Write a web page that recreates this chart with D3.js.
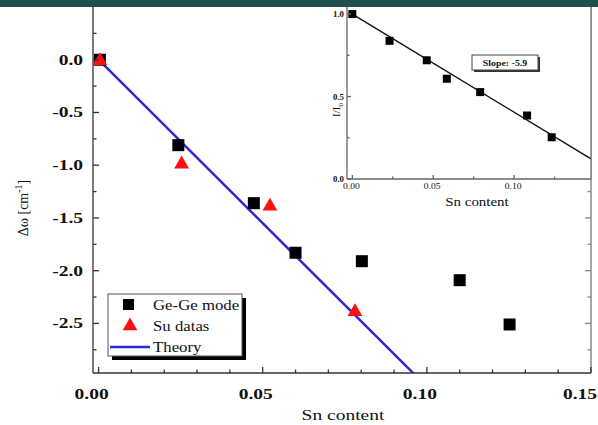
<!DOCTYPE html>
<html><head><meta charset="utf-8">
<script src="https://cdn.jsdelivr.net/npm/d3@7/dist/d3.min.js"></script>
<style>body{margin:0;background:#fff}svg{display:block}text{font-family:"Liberation Serif","Times New Roman",serif}</style>
</head><body>
<script>
// ---- data ----
const geX = [0.0004, 0.0243, 0.0473, 0.0600, 0.0802, 0.1100, 0.1252];
const geY = [0.0, -0.81, -1.36, -1.83, -1.91, -2.09, -2.51];
const suX = [0.0004, 0.0253, 0.0522, 0.0781];
const suY = [0.0, -0.98, -1.38, -2.38];
const theoryX = [0.0, 0.10];
const theoryY = [0.0, -3.10];
const insetX = [0.000, 0.0230, 0.0460, 0.0584, 0.0790, 0.1080, 0.1232];
const insetY = [1.00, 0.838, 0.72, 0.608, 0.527, 0.385, 0.253];
const fitX = [0.0, 0.1475];
const fitY = [1.0, 0.122];
const xTicks = [0, 0.05, 0.10, 0.15];
const yTicks = [0, -0.5, -1.0, -1.5, -2.0, -2.5];
const insetXTicks = [0, 0.05, 0.10];
const insetYTicks = [0, 0.5, 1.0];
const legendLabels = ["Ge-Ge mode", "Su datas", "Theory"];
const slopeLabel = "Slope: -5.9";

const W = 598, H = 425;
const svg = d3.select("body").append("svg").attr("width", W).attr("height", H);
svg.append("rect").attr("width", W).attr("height", H).attr("fill", "#fff");

const L = 93, R = 591, T = 7, B = 373;
const x = d3.scaleLinear().domain([-0.0017, 0.15]).range([L, R]);
const y = d3.scaleLinear().domain([-2.97, 0.5]).range([B, T]);
const fmt = f => v => d3.format(f)(v).replace("\u2212", "-");

const defs = svg.append("defs");
defs.append("clipPath").attr("id", "mainclip").append("rect")
  .attr("x", L).attr("y", T).attr("width", R - L).attr("height", B - T);

function stext(g, tx, ty, str, opts) {
  const sx = opts.sx || 1;
  return g.append("text")
    .attr("transform", `translate(${tx},${ty}) scale(${sx},1)`)
    .attr("text-anchor", opts.anchor || "middle")
    .attr("font-size", opts.size || 14)
    .attr("font-weight", opts.bold ? "bold" : "normal")
    .attr("fill", opts.fill || "#111")
    .text(str);
}

// theory line
const plot = svg.append("g").attr("clip-path", "url(#mainclip)");
const line = d3.line().x(d => x(d[0])).y(d => y(d[1]));
plot.append("path").datum(d3.zip(theoryX, theoryY)).attr("d", line)
  .attr("stroke", "#2a2ad2").attr("stroke-width", 2.5).attr("fill", "none");

// squares
const sq = 12;
plot.selectAll("rect.ge").data(d3.zip(geX, geY)).join("rect")
  .attr("x", d => x(d[0]) - sq / 2).attr("y", d => y(d[1]) - sq / 2)
  .attr("width", sq).attr("height", sq).attr("fill", "#000");
const tri = d3.symbol().type(d3.symbolTriangle).size(95);
plot.selectAll("path.su").data(d3.zip(suX, suY)).join("path")
  .attr("transform", d => `translate(${x(d[0])},${y(d[1]) + 1})`)
  .attr("d", tri).attr("fill", "#ff1010");

// axes frame & ticks
const ax = svg.append("g").attr("stroke", "#333").attr("stroke-width", 1.3);
ax.append("line").attr("x1", L).attr("x2", L).attr("y1", T).attr("y2", B);
ax.append("line").attr("x1", L).attr("x2", R).attr("y1", B).attr("y2", B);
ax.append("line").attr("x1", R).attr("x2", R).attr("y1", T).attr("y2", B).attr("stroke", "#777");
const xMinor = d3.range(0, 0.1501, 0.01);
xMinor.forEach(v => {
  const major = xTicks.some(t => Math.abs(t - v) < 1e-6);
  ax.append("line").attr("x1", x(v)).attr("x2", x(v)).attr("y1", B).attr("y2", B - (major ? 6 : 3.5));
});
const yMinor = d3.range(-2.75, 0.251, 0.25);
yMinor.forEach(v => {
  const major = yTicks.some(t => Math.abs(t - v) < 1e-6);
  ax.append("line").attr("x1", L).attr("x2", L + (major ? 6 : 3.5)).attr("y1", y(v)).attr("y2", y(v));
  ax.append("line").attr("x1", R).attr("x2", R - (major ? 6 : 3.5)).attr("y1", y(v)).attr("y2", y(v)).attr("stroke", "#888");
});
const lab = svg.append("g");
xTicks.forEach((v, i) => {
  const last = i === xTicks.length - 1;
  stext(lab, last ? 597 : x(v) - 7, 399, fmt(".2f")(v), {size: 15, bold: true, sx: 1.3, anchor: last ? "end" : "middle"});
});
yTicks.forEach(v => stext(lab, 83, y(v) + 5, fmt(".1f")(v), {size: 15, bold: true, sx: 1.3, anchor: "end"}));
stext(lab, 343, 420, "Sn content", {size: 15, sx: 1.3});
const yt = lab.append("text").attr("transform", "translate(28,208) rotate(-90)")
  .attr("text-anchor", "middle").attr("font-size", 14).attr("fill", "#111");
yt.append("tspan").text("Δω [cm");
yt.append("tspan").attr("dy", -6).attr("font-size", 10).text("-1");
yt.append("tspan").attr("dy", 6).text("]");

// legend
const lg = svg.append("g");
lg.append("rect").attr("x", 112).attr("y", 298).attr("width", 134).attr("height", 62).attr("fill", "#000");
lg.append("rect").attr("x", 108).attr("y", 294).attr("width", 134).attr("height", 62)
  .attr("fill", "#fff").attr("stroke", "#555").attr("stroke-width", 1);
lg.append("rect").attr("x", 123).attr("y", 299).attr("width", 11).attr("height", 11).attr("fill", "#000");
lg.append("path").attr("transform", "translate(130,326)").attr("d", tri).attr("fill", "#ff1010");
lg.append("line").attr("x1", 110).attr("x2", 150).attr("y1", 347).attr("y2", 347)
  .attr("stroke", "#2a2ad2").attr("stroke-width", 2.5);
[305, 326, 347].forEach((yy, i) => stext(lg, 153, yy + 5, legendLabels[i], {size: 15, sx: 1.12, anchor: "start"}));

// inset
const iL = 347, iR = 591, iT = 7, iB = 179;
const ix = d3.scaleLinear().domain([-0.0033, 0.1475]).range([iL, iR]);
const iy = d3.scaleLinear().domain([0, 1.043]).range([iB, iT]);
svg.append("rect").attr("x", iL).attr("y", iT).attr("width", iR - iL).attr("height", iB - iT).attr("fill", "#fff");
defs.append("clipPath").attr("id", "insclip").append("rect")
  .attr("x", iL).attr("y", iT).attr("width", iR - iL).attr("height", iB - iT);
const ig = svg.append("g").attr("clip-path", "url(#insclip)");
const iline = d3.line().x(d => ix(d[0])).y(d => iy(d[1]));
ig.append("path").datum(d3.zip(fitX, fitY)).attr("d", iline)
  .attr("stroke", "#111").attr("stroke-width", 1.4).attr("fill", "none");
const isq = 8;
ig.selectAll("rect.p").data(d3.zip(insetX, insetY)).join("rect")
  .attr("x", d => ix(d[0]) - isq / 2).attr("y", d => iy(d[1]) - isq / 2)
  .attr("width", isq).attr("height", isq).attr("fill", "#000");
const ia = svg.append("g").attr("stroke", "#666").attr("stroke-width", 1.3);
ia.append("line").attr("x1", iL).attr("x2", iL).attr("y1", iT).attr("y2", iB);
ia.append("line").attr("x1", iL).attr("x2", iR).attr("y1", iB).attr("y2", iB);
ia.append("line").attr("x1", iR).attr("x2", iR).attr("y1", iT).attr("y2", iB).attr("stroke", "#777");
d3.range(0, 0.1476, 0.025).forEach(v => {
  const major = insetXTicks.some(t => Math.abs(t - v) < 1e-6);
  ia.append("line").attr("x1", ix(v)).attr("x2", ix(v)).attr("y1", iB).attr("y2", iB - (major ? 4 : 2.5));
});
d3.range(0, 1.01, 0.25).forEach(v => {
  const major = insetYTicks.some(t => Math.abs(t - v) < 1e-6);
  ia.append("line").attr("x1", iL).attr("x2", iL + (major ? 4 : 2.5)).attr("y1", iy(v)).attr("y2", iy(v));
});
const il = svg.append("g");
insetXTicks.forEach(v => stext(il, ix(v) - 1, 189, fmt(".2f")(v), {size: 8, sx: 1.2}));
insetYTicks.forEach(v => stext(il, 344, iy(v) + 3, fmt(".1f")(v), {size: 8, bold: true, sx: 1.1, anchor: "end"}));
stext(il, 477, 206, "Sn content", {size: 13, sx: 1.15});
const iyt = il.append("text").attr("transform", "translate(340,110) rotate(-90)")
  .attr("text-anchor", "middle").attr("font-size", 11).attr("fill", "#111");
iyt.append("tspan").text("I/I");
iyt.append("tspan").attr("dy", 3).attr("font-size", 7).text("0");

// slope box
il.append("rect").attr("x", 474).attr("y", 57).attr("width", 66).attr("height", 15).attr("fill", "#333");
il.append("rect").attr("x", 472).attr("y", 55).attr("width", 66).attr("height", 15)
  .attr("fill", "#fff").attr("stroke", "#444").attr("stroke-width", 1);
stext(il, 505, 66, slopeLabel, {size: 9, bold: true, sx: 1.1});

// top band
svg.append("rect").attr("x", 0).attr("y", 0).attr("width", W).attr("height", 7).attr("fill", "#1e5050");
</script>
</body></html>
